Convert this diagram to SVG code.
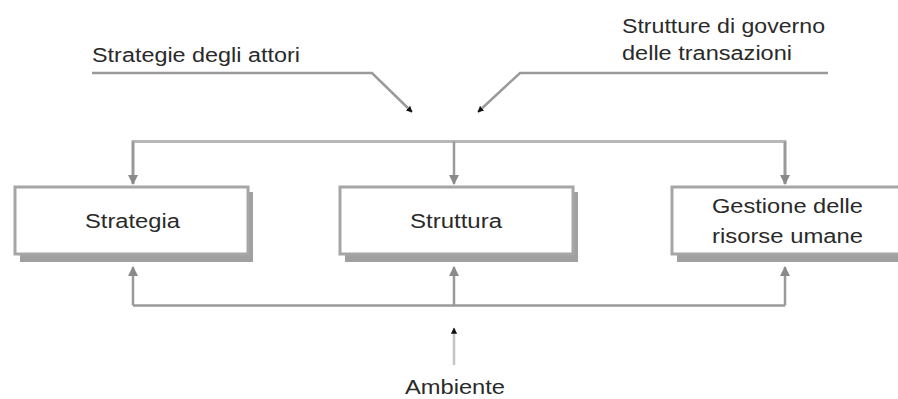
<svg xmlns="http://www.w3.org/2000/svg" width="898" height="399" viewBox="0 0 898 399">
<defs>
<style>
.t{font-family:"Liberation Sans","DejaVu Sans",sans-serif;font-size:20px;fill:#2a2a2a}
.box{fill:#fff;stroke:#a6a6a6;stroke-width:3}
.sh{fill:#a0a0a0}
.c{fill:none;stroke:#9a9a9a;stroke-width:2.5}
.top{fill:none;stroke:#b8b8b8;stroke-width:3}
</style>
<marker id="ag" viewBox="0 0 10 10" refX="9" refY="5" markerWidth="4" markerHeight="4" orient="auto" markerUnits="strokeWidth">
<path d="M0,0 L10,5 L0,10 Z" fill="#8a8a8a"/>
</marker>
<marker id="ak" viewBox="0 0 10 10" refX="9" refY="5" markerWidth="2.5" markerHeight="2.5" orient="auto" markerUnits="strokeWidth">
<path d="M0,0 L10,5 L0,10 Z" fill="#111"/>
</marker>
</defs>
<rect width="898" height="399" fill="#fff"/>
<g id="connectors">
<polyline class="c" points="92,73 372,73 412,112" marker-end="url(#ak)"/>
<polyline class="c" points="828,73 520,73 478,112" marker-end="url(#ak)"/>
<polyline class="top" points="133,184 133,141.5 785,141.5 785,184"/>
<line class="c" x1="133" y1="141.5" x2="133" y2="184" marker-end="url(#ag)"/>
<line class="c" x1="454" y1="141.5" x2="454" y2="184" marker-end="url(#ag)"/>
<line class="c" x1="785" y1="141.5" x2="785" y2="184" marker-end="url(#ag)"/>
<polyline class="c" points="133,305.5 785,305.5"/>
<line class="c" x1="133" y1="305.5" x2="133" y2="267" marker-end="url(#ag)"/>
<line class="c" x1="454" y1="305.5" x2="454" y2="267" marker-end="url(#ag)"/>
<line class="c" x1="785" y1="305.5" x2="785" y2="267" marker-end="url(#ag)"/>
<line x1="454" y1="365" x2="454" y2="328" stroke="#c4c4c4" stroke-width="2.5" marker-end="url(#ak)"/>
</g>
<g id="label-strategie-attori">
<text class="t" x="92" y="62" textLength="208" lengthAdjust="spacingAndGlyphs">Strategie degli attori</text>
</g>
<g id="label-strutture-governo">
<text class="t" x="622" y="33" textLength="203" lengthAdjust="spacingAndGlyphs">Strutture di governo</text>
<text class="t" x="622" y="60" textLength="170" lengthAdjust="spacingAndGlyphs">delle transazioni</text>
</g>
<g id="node-strategia">
<rect class="sh" x="20" y="192" width="233" height="70"/>
<rect class="box" x="15" y="187" width="233" height="67"/>
<text class="t" x="85" y="228" textLength="95" lengthAdjust="spacingAndGlyphs">Strategia</text>
</g>
<g id="node-struttura">
<rect class="sh" x="345" y="192" width="233" height="70"/>
<rect class="box" x="340" y="187" width="233" height="67"/>
<text class="t" x="410" y="228" textLength="92" lengthAdjust="spacingAndGlyphs">Struttura</text>
</g>
<g id="node-gestione">
<rect class="sh" x="677" y="192" width="240" height="70"/>
<rect class="box" x="672" y="187" width="240" height="67"/>
<text class="t" x="712" y="213" textLength="151" lengthAdjust="spacingAndGlyphs">Gestione delle</text>
<text class="t" x="712" y="243" textLength="151" lengthAdjust="spacingAndGlyphs">risorse umane</text>
</g>
<g id="label-ambiente">
<text class="t" x="405" y="394" textLength="100" lengthAdjust="spacingAndGlyphs">Ambiente</text>
</g>
</svg>
